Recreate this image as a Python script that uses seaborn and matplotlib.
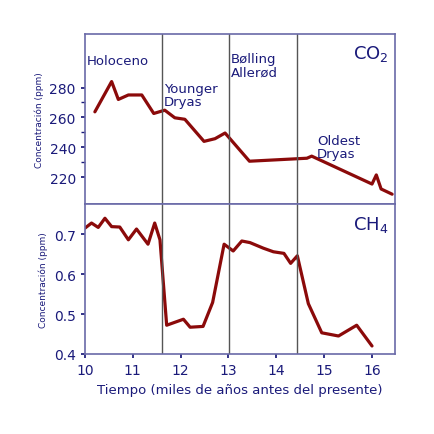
import numpy as np
import matplotlib
matplotlib.use("Agg")
import matplotlib.pyplot as plt
import seaborn as sns

co2_year = [10.21, 10.56, 10.70, 10.91, 11.19, 11.44, 11.67, 11.88, 12.09, 12.49, 12.72,
            12.93, 13.44, 14.64, 14.74, 16.0, 16.09, 16.19, 16.42]
co2_ppm = [263.7, 284, 272, 275, 275, 262.6, 264.8, 259.7, 258.7, 243.9, 245.7,
           249.5, 230.6, 232.6, 234, 215.3, 221.4, 212, 208.5]

ch4_year = [10.0, 10.14, 10.28, 10.42, 10.56, 10.73, 10.91, 11.08, 11.32, 11.46, 11.57,
            11.71, 12.06, 12.20, 12.47, 12.67, 12.91, 13.10, 13.28, 13.45, 13.73, 13.94,
            14.16, 14.30, 14.44, 14.67, 14.95, 15.30, 15.68, 16.0]
ch4_ppm = [0.715, 0.728, 0.717, 0.740, 0.719, 0.718, 0.686, 0.713, 0.675, 0.728, 0.686,
           0.472, 0.487, 0.467, 0.469, 0.529, 0.675, 0.658, 0.683, 0.679, 0.665, 0.656,
           0.652, 0.627, 0.646, 0.526, 0.453, 0.445, 0.472, 0.420]

boundaries = [11.61, 13.01, 14.44]
periods = [("Holoceno", 10.05, 298), ("Younger\nDryas", 11.65, 275),
           ("Bølling\nAllerød", 13.05, 295), ("Oldest\nDryas", 14.85, 240)]

sns.set_theme(style="white")
navy = "#1a1a7a"
red = "#8b0a0a"

fig = plt.figure(figsize=(4.35, 4.35), dpi=100)
ax1 = fig.add_axes([0.195, 0.529, 0.713, 0.391])
ax2 = fig.add_axes([0.195, 0.184, 0.713, 0.345])

sns.lineplot(x=co2_year, y=co2_ppm, ax=ax1, color=red, linewidth=2.3)
sns.lineplot(x=ch4_year, y=ch4_ppm, ax=ax2, color=red, linewidth=2.3)

for ax in (ax1, ax2):
    ax.set_xlim(10.0, 16.48)
    for b in boundaries:
        ax.axvline(b, color="#555555", linewidth=1)
    for s in ax.spines.values():
        s.set_color("#6a6aa8")
        s.set_linewidth(1.2)
    ax.tick_params(colors=navy, labelsize=10, length=3, direction="out", left=True, bottom=True)
    ax.set_ylabel("Concentración (ppm)", fontsize=6.5, color=navy)

ax1.set_ylim(202, 316)
ax1.set_yticks([220, 240, 260, 280])
ax1.set_yticks([230, 250, 270], minor=True)
ax1.tick_params(axis="y", which="minor", length=3, left=True, color=navy)
ax1.set_xticks([])
ax1.text(16.35, 303, "CO$_2$", ha="right", va="center", fontsize=13, color=navy)
for name, x, y in periods:
    ax1.text(x, y, name, ha="left", va="center", fontsize=9.5, color=navy, linespacing=1.0)

ax2.set_ylim(0.4, 0.776)
ax2.set_yticks([0.4, 0.5, 0.6, 0.7])
ax2.set_yticklabels(["0.4", "0.5", "0.6", "0.7"])
ax2.set_xticks(range(10, 17))
ax2.text(16.35, 0.725, "CH$_4$", ha="right", va="center", fontsize=13, color=navy)
ax2.set_xlabel("Tiempo (miles de años antes del presente)", fontsize=9.5, color=navy)

fig.savefig("out.png", facecolor="white")
